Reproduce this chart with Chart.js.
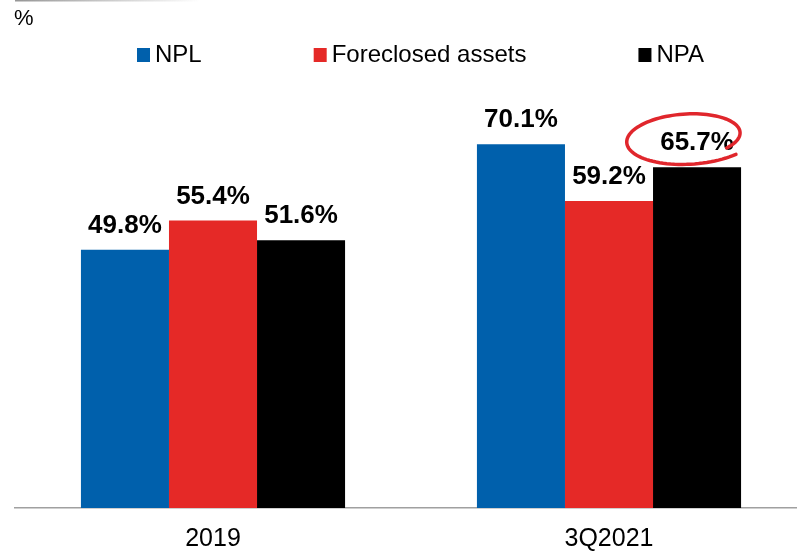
<!DOCTYPE html>
<html>

<head>
    <meta charset="UTF-8">
    <title>NPL / Foreclosed assets / NPA coverage</title>
    <style>
        body {
            margin: 0;
            overflow: hidden;
            background: white;
        }
    </style>
    <script src="https://cdn.jsdelivr.net/npm/chart.js"></script>
</head>

<body>
    <canvas id="myChart" width="810" height="571"></canvas>
    <script>
        const categories = ['2019', '3Q2021'];
        const seriesNames = ['NPL', 'Foreclosed assets', 'NPA'];
        const nplValues = [49.8, 70.1];
        const foreclosedValues = [55.4, 59.2];
        const npaValues = [51.6, 65.7];
        const seriesColors = ['rgb(0, 96, 172)', 'rgb(229, 41, 39)', 'rgb(0, 0, 0)'];

        const fontName = '"Liberation Sans", Arial, sans-serif';

        // legend, "%" unit label and the thin line at the very top
        const topStuff = {
            id: 'topStuff',
            afterDraw(chart) {
                const c = chart.ctx;
                c.save();
                let grad = c.createLinearGradient(15, 0, 200, 0);
                grad.addColorStop(0, 'rgb(150,150,150)');
                grad.addColorStop(1, 'rgba(150,150,150,0)');
                c.fillStyle = grad;
                c.fillRect(15, 0, 185, 1.5);

                c.fillStyle = '#000';
                c.font = '22px ' + fontName;
                c.textBaseline = 'alphabetic';
                c.textAlign = 'left';
                c.fillText('%', 14, 25);

                c.font = '24px ' + fontName;
                c.textBaseline = 'middle';
                let x = 137;
                chart.data.datasets.forEach(function (ds) {
                    c.fillStyle = ds.backgroundColor;
                    c.fillRect(x, 48, 13, 14);
                    c.fillStyle = '#000';
                    c.fillText(ds.label, x + 18, 55);
                    x += 18 + c.measureText(ds.label).width + 112;
                });
                c.restore();
            }
        };

        // value labels above the bars + red hand drawn loop on the last one
        const barLabels = {
            id: 'barLabels',
            afterDatasetsDraw(chart) {
                const c = chart.ctx;
                c.save();
                c.font = 'bold 26px ' + fontName;
                c.fillStyle = '#000';
                c.textAlign = 'center';
                c.textBaseline = 'alphabetic';
                chart.data.datasets.forEach(function (ds, i) {
                    chart.getDatasetMeta(i).data.forEach(function (bar, j) {
                        c.fillText(ds.data[j].toFixed(1) + '%', bar.x, bar.y - 17);
                    });
                });

                const last = chart.getDatasetMeta(2).data[1];
                const cx = last.x - 9, cy = last.y - 30;
                c.strokeStyle = 'rgb(224, 38, 44)';
                c.lineWidth = 3.5;
                c.lineCap = 'round';
                c.beginPath();
                const t0 = 41 * Math.PI / 180, t1 = -313 * Math.PI / 180;
                const rot = -0.07;
                for (let s = 0; s <= 100; s++) {
                    const t = t0 + (t1 - t0) * s / 100;
                    const k = 0.82 + 0.3 * s / 100;
                    const ex = 61 * k * Math.cos(t), ey = 25 * k * Math.sin(t);
                    const px = cx + ex * Math.cos(rot) - ey * Math.sin(rot);
                    const py = cy + ex * Math.sin(rot) + ey * Math.cos(rot);
                    if (s == 0) c.moveTo(px, py); else c.lineTo(px, py);
                }
                c.stroke();
                c.restore();
            }
        };

        const ctx = document.getElementById('myChart');
        const myChart = new Chart(ctx, {
            type: 'bar',
            data: {
                labels: categories,
                datasets: [{
                    label: seriesNames[0],
                    data: nplValues,
                    backgroundColor: seriesColors[0]
                }, {
                    label: seriesNames[1],
                    data: foreclosedValues,
                    backgroundColor: seriesColors[1]
                }, {
                    label: seriesNames[2],
                    data: npaValues,
                    backgroundColor: seriesColors[2]
                }]
            },
            options: {
                responsive: false,
                animation: false,
                categoryPercentage: 0.667,
                barPercentage: 1.0,
                layout: {
                    padding: { top: 93, left: 15, right: 3, bottom: 1 }
                },
                plugins: {
                    legend: { display: false },
                    tooltip: { enabled: false }
                },
                scales: {
                    y: {
                        display: false,
                        min: 0,
                        max: 80
                    },
                    x: {
                        grid: { display: false, drawTicks: false },
                        border: { display: true, color: 'rgb(160,160,160)', width: 1.5 },
                        ticks: {
                            color: '#000',
                            padding: 16,
                            font: { family: fontName, size: 25 }
                        }
                    }
                }
            },
            plugins: [topStuff, barLabels]
        });
    </script>
</body>

</html>
